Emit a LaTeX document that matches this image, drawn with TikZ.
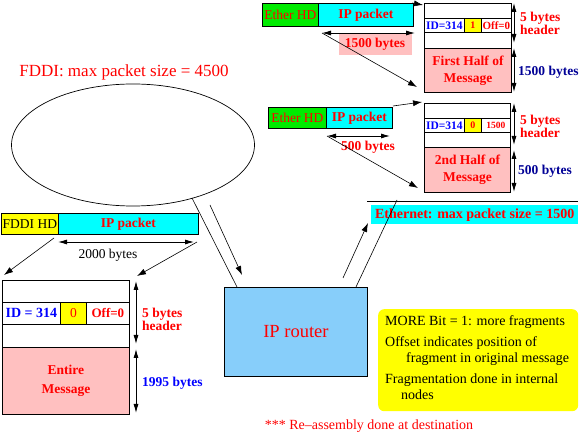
\documentclass[tikz,border=0pt]{standalone}
\usepackage{fontspec}
\setmainfont{Liberation Serif}
\usetikzlibrary{arrows.meta,shapes.geometric}
\definecolor{hdgreen}{RGB}{0,235,0}
\definecolor{pktcyan}{RGB}{0,255,255}
\definecolor{bitylw}{RGB}{255,255,0}
\definecolor{msgpink}{RGB}{255,192,192}
\definecolor{routerblue}{RGB}{135,206,250}
\definecolor{txtred}{RGB}{255,0,0}
\definecolor{txtblue}{RGB}{0,0,255}
\definecolor{txtnavy}{RGB}{0,0,150}
\newcommand\fsz[2]{\fontsize{#1}{#2}\selectfont}
\begin{document}
\begin{tikzpicture}[x=1pt, y=-1pt,
font=\fsz{13.5}{17},
cell/.style={draw, line width=0.8pt, anchor=north west, inner sep=0pt, align=center},
lbl/.style={inner sep=0pt, align=left, anchor=west},
arrow/.style={-{Latex[length=9pt,width=6pt]}, line width=0.6pt},
dim/.style={{Latex[length=9pt,width=5pt]}-{Latex[length=9pt,width=5pt]}, line width=0.8pt},
link/.style={line width=0.6pt}
]
\useasboundingbox (0,0) rectangle (581,435);

\node[text=txtred, font=\fsz{17}{20}] (fddilbl) at (124,72) {FDDI: max packet size = 4500};
\node[draw, ellipse, line width=0.7pt, minimum width=243, minimum height=122] (ring) at (133,145) {};

\node[cell, fill=bitylw, minimum width=57, minimum height=21] (fhd) at (1,213) {FDDI HD};
\node[cell, fill=pktcyan, minimum width=140, minimum height=21, text=txtred, font=\fsz{13.5}{17}\bfseries] (fip) at (58,213) {IP packet};
\coordinate (fd1) at (58,242);
\coordinate (fd2) at (194,242);
\draw[dim] (fd1) -- (fd2);
\node (fbytes) at (108,255) {2000 bytes};

\node[cell, minimum width=127, minimum height=22] (m0a) at (2,280) {};
\node[cell, minimum width=58, minimum height=22, text=txtblue, font=\fsz{14}{17}\bfseries] (m0id) at (2,302) {ID = 314};
\node[cell, fill=bitylw, minimum width=26, minimum height=22, text=txtred] (m0bit) at (60,302) {0};
\node[cell, minimum width=43, minimum height=22, text=txtred, font=\fsz{13}{17}\bfseries] (m0off) at (86,302) {Off=0};
\node[cell, minimum width=127, minimum height=23] (m0c) at (2,324) {};
\node[cell, fill=msgpink, minimum width=127, minimum height=67, text=txtred, font=\fsz{13.5}{19}\bfseries] (m0data) at (2,347) {Entire\\Message};

\coordinate (fa1) at (54,238);
\coordinate (fa2) at (4,275);
\coordinate (fb1) at (197,242);
\coordinate (fb2) at (137,276);
\draw[arrow] (fa1) -- (fa2);
\draw[arrow] (fb1) -- (fb2);

\coordinate (m0h1) at (136,281);
\coordinate (m0h2) at (136,344);
\coordinate (m0d1) at (136,349);
\coordinate (m0d2) at (136,413);
\draw[dim] (m0h1) -- (m0h2);
\draw[dim] (m0d1) -- (m0d2);
\node[lbl, text=txtred, font=\fsz{13.5}{13}\bfseries] (m0hlbl) at (142,319) {5 bytes\\header};
\node[lbl, text=txtblue, font=\fsz{13.5}{13}\bfseries] (m0dlbl) at (142,383) {1995 bytes};

\node[cell, fill=routerblue, minimum width=143, minimum height=89, text=txtred, font=\fsz{18.5}{20}] (router) at (224,287) {IP router};

\coordinate (r1) at (192,198);
\coordinate (r2) at (237,287);
\coordinate (r3) at (210,205);
\coordinate (r4) at (242,275);
\draw[link] (r1) -- (r2);
\draw[arrow] (r3) -- (r4);

\node[fill=pktcyan, anchor=north west, inner sep=0pt, minimum width=207, minimum height=19, text=txtred, font=\fsz{14}{17}\bfseries] (ethlbl) at (371,205) {Ethernet: max packet size = 1500};
\coordinate (e1) at (367,201);
\coordinate (e2) at (578,201);
\draw[line width=0.8pt] (e1) -- (e2);
\coordinate (e3) at (343,278);
\coordinate (e4) at (368,223);
\coordinate (e5) at (356,287);
\coordinate (e6) at (397,200);
\draw[arrow] (e3) -- (e4);
\draw[link] (e5) -- (e6);

\node[cell, fill=hdgreen, minimum width=56, minimum height=23, text=txtred] (ehd1) at (262,3) {Ether HD};
\node[cell, fill=pktcyan, minimum width=95, minimum height=23, text=txtred, font=\fsz{13.5}{17}\bfseries] (eip1) at (318,3) {IP packet};
\node[fill=msgpink, inner sep=0pt, minimum width=73, minimum height=22, text=txtred, font=\fsz{13.5}{17}\bfseries] (ebytes1) at (375,44) {1500 bytes};
\coordinate (p1a) at (322,33);
\coordinate (p1b) at (415,33);
\coordinate (p1c) at (417,87);
\coordinate (p1d) at (412,3);
\coordinate (p1e) at (423,5);
\draw[dim] (p1a) -- (p1b);
\draw[arrow] (p1a) -- (p1c);
\draw[arrow] (p1d) -- (p1e);

\node[cell, minimum width=87, minimum height=15] (m1a) at (424,3) {};
\node[cell, minimum width=40, minimum height=14, text=txtblue, font=\fsz{11.5}{13}\bfseries] (m1id) at (424,18) {ID=314};
\node[cell, fill=bitylw, minimum width=17, minimum height=14, text=txtred, font=\fsz{10}{12}\bfseries] (m1bit) at (464,18) {1};
\node[cell, minimum width=30, minimum height=14, text=txtred, font=\fsz{11}{13}\bfseries] (m1off) at (481,18) {Off=0};
\node[cell, minimum width=87, minimum height=16] (m1c) at (424,32) {};
\node[cell, fill=msgpink, minimum width=87, minimum height=44, text=txtred, font=\fsz{13.5}{17}\bfseries] (m1data) at (424,48) {First Half of\\Message};

\coordinate (m1h1) at (514,3);
\coordinate (m1h2) at (514,43);
\coordinate (m1d1) at (514,48);
\coordinate (m1d2) at (514,92);
\draw[dim] (m1h1) -- (m1h2);
\draw[dim] (m1d1) -- (m1d2);
\node[lbl, text=txtred, font=\fsz{13.5}{13}\bfseries] (m1hlbl) at (520,23) {5 bytes\\header};
\node[lbl, text=txtnavy, font=\fsz{13.5}{13}\bfseries] (m1dlbl) at (518,72) {1500 bytes};

\node[cell, fill=hdgreen, minimum width=58, minimum height=21, text=txtred] (ehd2) at (268,107) {Ether HD};
\node[cell, fill=pktcyan, minimum width=66, minimum height=21, text=txtred, font=\fsz{13.5}{17}\bfseries] (eip2) at (326,107) {IP packet};
\node[text=txtred, inner sep=0pt, font=\fsz{13.5}{17}\bfseries] (ebytes2) at (368,147) {500 bytes};
\coordinate (p2a) at (327,136);
\coordinate (p2b) at (390,136);
\coordinate (p2c) at (418,188);
\coordinate (p2d) at (393,106);
\coordinate (p2e) at (422,102);
\draw[dim] (p2a) -- (p2b);
\draw[arrow] (p2a) -- (p2c);
\draw[arrow] (p2d) -- (p2e);

\node[cell, minimum width=86, minimum height=15] (m2a) at (424,103) {};
\node[cell, minimum width=40, minimum height=14, text=txtblue, font=\fsz{11.5}{13}\bfseries] (m2id) at (424,118) {ID=314};
\node[cell, fill=bitylw, minimum width=17, minimum height=14, text=txtred, font=\fsz{10}{12}\bfseries] (m2bit) at (464,118) {0};
\node[cell, minimum width=29, minimum height=14, text=txtred, font=\fsz{9.5}{12}\bfseries] (m2off) at (481,118) {1500};
\node[cell, minimum width=86, minimum height=15] (m2c) at (424,132) {};
\node[cell, fill=msgpink, minimum width=86, minimum height=45, text=txtred, font=\fsz{13.5}{17}\bfseries] (m2data) at (424,147) {2nd Half of\\Message};

\coordinate (m2h1) at (514,103);
\coordinate (m2h2) at (514,145);
\coordinate (m2d1) at (514,150);
\coordinate (m2d2) at (514,192);
\draw[dim] (m2h1) -- (m2h2);
\draw[dim] (m2d1) -- (m2d2);
\node[lbl, text=txtred, font=\fsz{13.5}{13}\bfseries] (m2hlbl) at (520,126) {5 bytes\\header};
\node[lbl, text=txtnavy, font=\fsz{13.5}{13}\bfseries] (m2dlbl) at (518,171) {500 bytes};

\node[fill=bitylw, rounded corners=6pt, anchor=north west, minimum width=200, minimum height=102] (note) at (378,309) {};
\node[inner sep=0pt, anchor=north west, align=left, font=\fsz{14}{15.5}] (notetxt) at (385,315) {MORE Bit = 1: more fragments\\[6pt]Offset indicates position of\\\hspace*{21pt}fragment in original message\\[6pt]Fragmentation done in internal\\\hspace*{16pt}nodes};

\node[text=txtred, font=\fsz{14}{17}] (reasm) at (369,426) {*** Re--assembly done at destination};
\end{tikzpicture}
\end{document}
